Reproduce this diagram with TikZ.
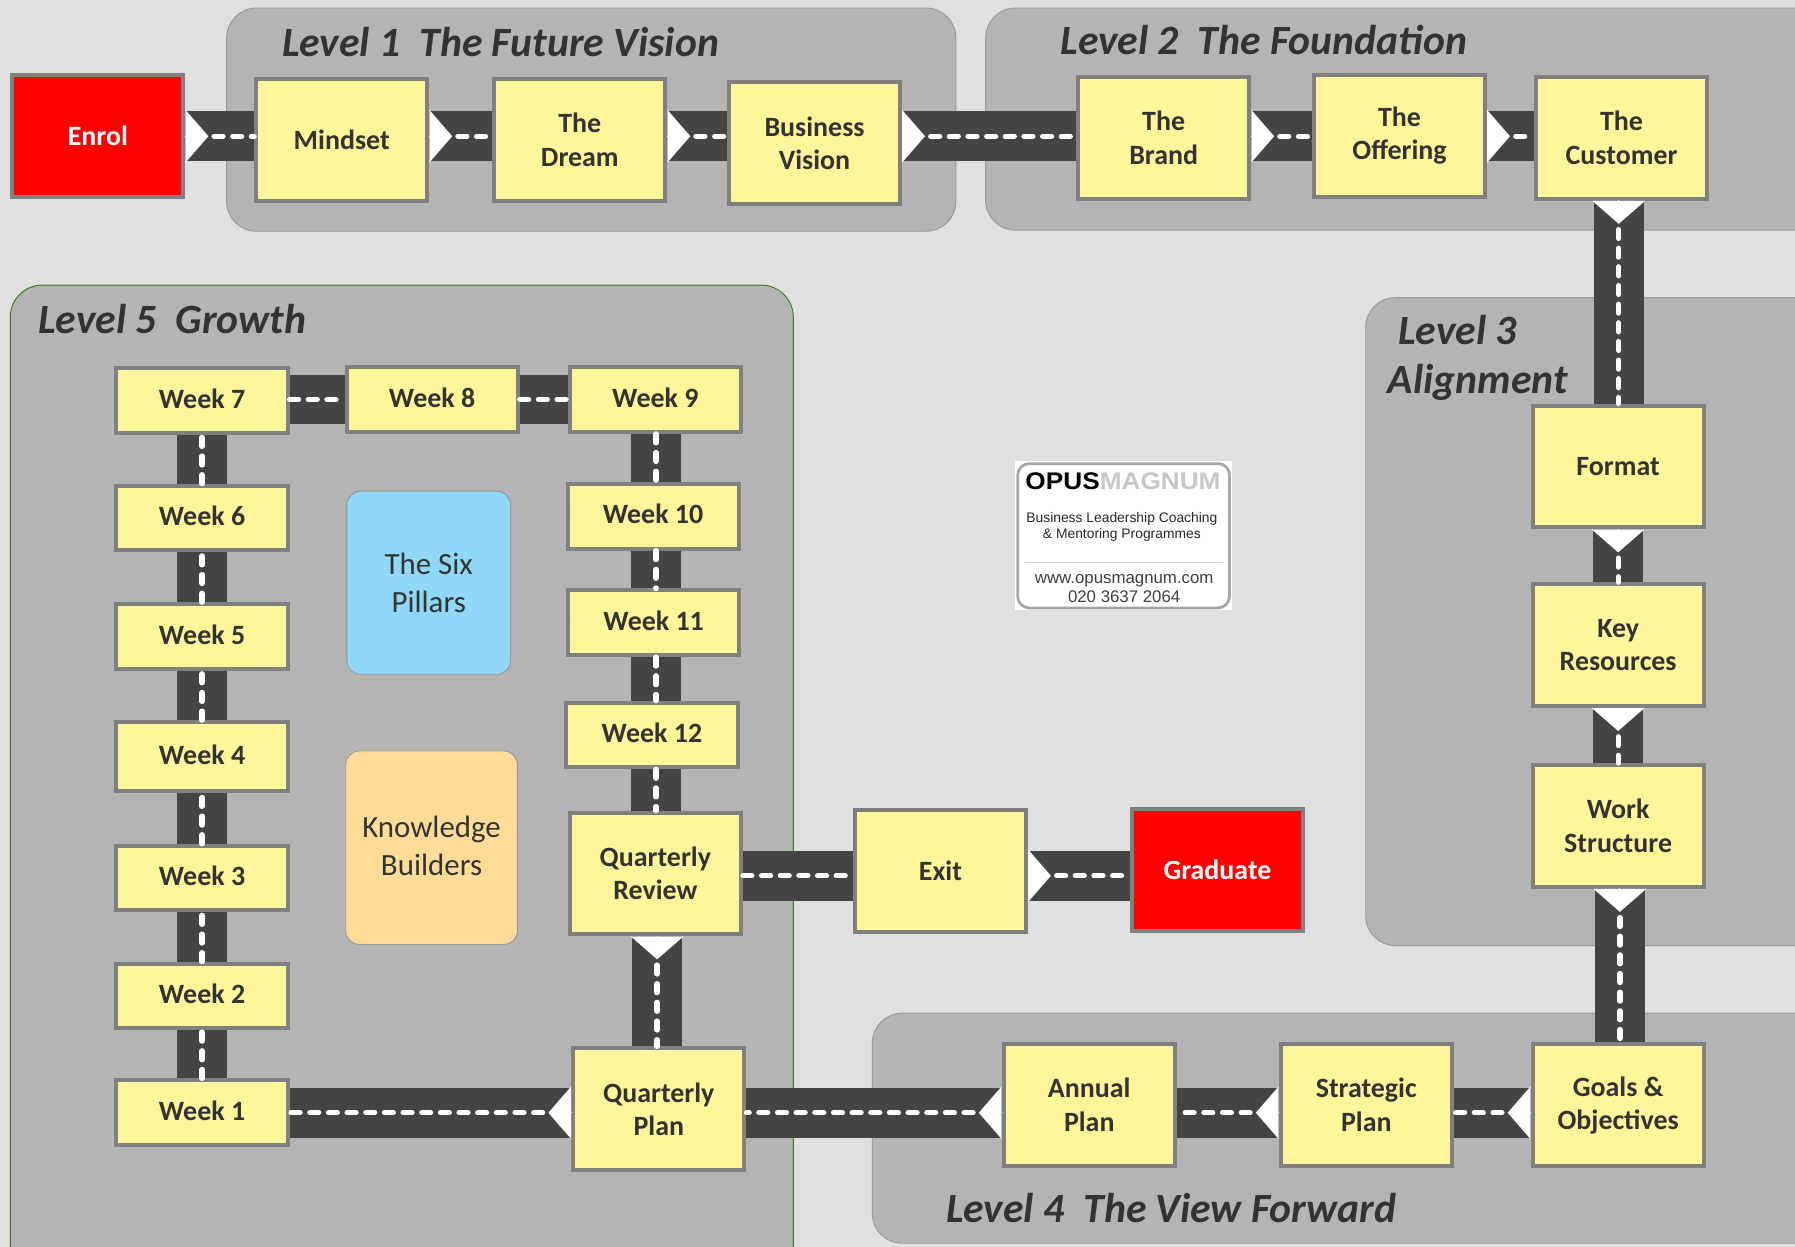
\documentclass[tikz,border=0pt]{standalone}
\usepackage{fontspec}
\setmainfont{Carlito}
\newfontfamily\logofont{Liberation Sans}
\usetikzlibrary{arrows.meta,calc}

\definecolor{pagegray}{HTML}{E0E0E0}
\definecolor{panelgray}{HTML}{B4B4B4}
\definecolor{boxgray}{HTML}{808080}
\definecolor{boxyellow}{HTML}{FFF599}
\definecolor{roadgray}{HTML}{444444}
\definecolor{inkgray}{HTML}{333333}
\definecolor{pillarblue}{HTML}{8FD8F8}
\definecolor{builderorange}{HTML}{FFDD99}
\definecolor{growthgreen}{HTML}{3C7A1E}

\tikzset{
  panel/.style={draw=black!40,fill=panelgray,line width=0.4pt,rounded corners=13pt},
  leveltitle/.style={anchor=base west,inner sep=0pt,text=inkgray,align=left,
    font=\fontsize{18.2pt}{21.5pt}\selectfont\bfseries\itshape},
  stagebox/.style={draw=boxgray,fill=boxyellow,line width=1.75pt,text=inkgray,
    minimum width=74.75pt,minimum height=53.25pt,inner sep=0pt,align=center,
    font=\fontsize{12.2pt}{14.6pt}\selectfont\bfseries},
  weekbox/.style={stagebox,minimum height=28.25pt,text depth=2pt},
  redbox/.style={stagebox,fill=red,text=white},
  sidebox/.style={draw=black!40,line width=0.4pt,rounded corners=6pt,text=inkgray,
    inner sep=0pt,align=center,font=\fontsize{13.5pt}{16.5pt}\selectfont},
  roadbed/.style={draw=roadgray,line width=21.8pt},
  roadline/.style={draw=white,line width=2.3pt,line cap=round,
    dash pattern=on 3.9pt off 4.25pt},
  roadtip/.style={draw=white,line width=0pt,
    -{Triangle[length=10pt,width=23pt,fill=white]}},
}

% road with a white marker at its start
\newcommand{\road}[2]{%
  \draw[roadbed] (#1) -- (#2);
  \draw[roadtip] (#1) -- ($(#1)!10pt!(#2)$);
  \draw[roadline,shorten <=12.5pt] (#1) -- (#2);
}
% road without a marker
\newcommand{\plainroad}[2]{%
  \draw[roadbed] (#1) -- (#2);
  \draw[roadline] (#1) -- (#2);
}

\begin{document}
\begin{tikzpicture}[x=0.5pt,y=-0.5pt]
    \useasboundingbox (0,0) rectangle (1568,1089);
    \clip (0,0) rectangle (1568,1089);
    \fill[pagegray] (0,0) rectangle (1568,1089);

    % Level panels
    \draw[panel] (198,7) rectangle (835,202);
    \draw[panel] (861,7) rectangle (1620,201);
    \draw[panel] (1193,260) rectangle (1620,826);
    \draw[panel] (762,885) rectangle (1620,1086);
    \draw[panel,draw=growthgreen,rounded corners=14pt] (9,249) rectangle (693,1120);

    %% Titles
    \node[leveltitle] (title1) at (246,49) {Level 1\ \ The Future Vision};
    \node[leveltitle] (title2) at (926,48) {Level 2\ \ The Foundation};
    \node[leveltitle] (title3) at (1212,344) {\hspace*{4.5pt}Level 3\\Alignment};
    \node[leveltitle] (title4) at (826,1068) {Level 4\ \ The View Forward};
    \node[leveltitle] (title5) at (33,291) {Level 5\ \ Growth};

    % Top row
    \node[redbox] (enrol) at (85.5,119) {Enrol};
    \node[stagebox] (mindset) at (298.5,122) {Mindset};
    \node[stagebox] (dream) at (506.5,122) {The\\Dream};
    \node[stagebox] (vision) at (711.5,125) {Business\\Vision};
    \node[stagebox] (brand) at (1016.5,120.5) {The\\Brand};
    \node[stagebox] (offering) at (1222.5,118.5) {The\\Offering};
    \node[stagebox] (customer) at (1416.5,120.5) {The\\Customer};

    % Right column
    \node[stagebox] (format) at (1413.5,407.5) {Format};
    \node[stagebox] (resources) at (1413.5,563.5) {Key\\Resources};
    \node[stagebox] (structure) at (1413.5,721.5) {Work\\Structure};
    \node[stagebox] (goals) at (1413.5,965.5) {Goals \&\\Objectives};

    % Bottom row
    \node[stagebox] (strategic) at (1193.5,965) {Strategic\\Plan};
    \node[stagebox] (annual) at (951.5,965) {Annual\\Plan};
    \node[stagebox] (qplan) at (575.5,969) {Quarterly\\Plan};
    \node[stagebox] (qreview) at (572.5,763) {Quarterly\\Review};
    \node[stagebox] (exit) at (821.5,761) {Exit};
    \node[redbox] (graduate) at (1063.5,760) {Graduate};

    %% Weeks
    \node[weekbox] (week1) at (176.5,972) {Week 1};
    \node[weekbox] (week2) at (176.5,870) {Week 2};
    \node[weekbox] (week3) at (176.5,767) {Week 3};
    \node[weekbox,minimum height=30.25pt] (week4) at (176.5,661) {Week 4};
    \node[weekbox] (week5) at (176.5,556) {Week 5};
    \node[weekbox] (week6) at (176.5,452.5) {Week 6};
    \node[weekbox] (week7) at (176.5,350) {Week 7};
    \node[weekbox] (week8) at (377.5,349) {Week 8};
    \node[weekbox] (week9) at (572.5,349) {Week 9};
    \node[weekbox] (week10) at (570.5,451) {Week 10};
    \node[weekbox] (week11) at (571,544) {Week 11};
    \node[weekbox] (week12) at (569.5,642) {Week 12};

    %% Side boxes
    \node[sidebox,fill=pillarblue,minimum width=71.5pt,minimum height=80pt] (pillars)
      at (374.5,509) {The Six\\Pillars};
    \node[sidebox,fill=builderorange,minimum width=75pt,minimum height=84.5pt,text depth=2pt] (builders)
      at (377,740.5) {Knowledge\\Builders};

    % Roads
    \road{enrol.east |- 0,119}{mindset.west |- 0,119}
    \road{mindset.east |- 0,119}{dream.west |- 0,119}
    \road{dream.east |- 0,119}{vision.west |- 0,119}
    \road{vision.east |- 0,119}{brand.west |- 0,119}
    \road{brand.east |- 0,119}{offering.west |- 0,119}
    \road{offering.east |- 0,119}{customer.west |- 0,119}
    \road{customer.south -| 1414,0}{format.north -| 1414,0}
    \road{format.south}{resources.north}
    \road{resources.south}{structure.north}
    \road{structure.south -| 1415,0}{goals.north -| 1415,0}
    \road{goals.west |- 0,972}{strategic.east |- 0,972}
    \road{strategic.west |- 0,972}{annual.east |- 0,972}
    \road{annual.west |- 0,972}{qplan.east |- 0,972}
    \road{qplan.west |- 0,972}{week1.east |- 0,972}
    \road{qreview.south -| 574,0}{qplan.north -| 574,0}
    \plainroad{qreview.east |- 0,765}{exit.west |- 0,765}
    \road{exit.east |- 0,765}{graduate.west |- 0,765}

    %% Week roads
    \plainroad{week1.north}{week2.south}
    \plainroad{week2.north}{week3.south}
    \plainroad{week3.north}{week4.south}
    \plainroad{week4.north}{week5.south}
    \plainroad{week5.north}{week6.south}
    \plainroad{week6.north}{week7.south}
    \plainroad{week7.east |- 0,349}{week8.west |- 0,349}
    \plainroad{week8.east |- 0,349}{week9.west |- 0,349}
    \plainroad{week9.south -| 573,0}{week10.north -| 573,0}
    \plainroad{week10.south -| 573,0}{week11.north -| 573,0}
    \plainroad{week11.south -| 573,0}{week12.north -| 573,0}
    \plainroad{week12.south -| 573,0}{qreview.north -| 573,0}

    % Logo
    \fill[white] (887,403) rectangle (1076,533);
    \draw[draw=black!35,line width=1.2pt,rounded corners=5pt] (889,405) rectangle (1074,531);
    \draw[draw=black!20,line width=0.4pt] (895,491) -- (1068,491);
    \node[inner sep=0pt,font=\logofont\bfseries\fontsize{10.5pt}{12pt}\selectfont] (logoname)
      at (981,420) {\scalebox{1.09}[1]{OPUS\textcolor{black!22}{MAGNUM}}};
    \node[inner sep=0pt,align=center,text=black!85,
      font=\logofont\fontsize{6.05pt}{7pt}\selectfont] (logotag)
      at (980,460) {Business Leadership Coaching\\\& Mentoring Programmes};
    \node[inner sep=0pt,align=center,text=black!75,
      font=\logofont\fontsize{7.35pt}{8pt}\selectfont] (logocontact)
      at (982,514) {www.opusmagnum.com\\020 3637 2064};
\end{tikzpicture}
\end{document}
